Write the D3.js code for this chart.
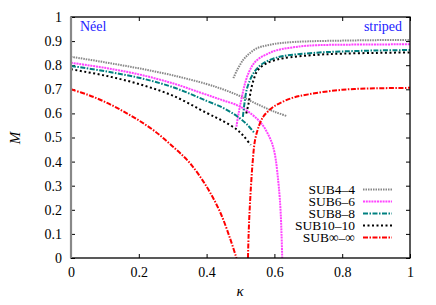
<!DOCTYPE html>
<html><head><meta charset="utf-8">
<script src="https://cdn.jsdelivr.net/npm/d3@7"></script>
<style>body{margin:0;background:#fff}</style>
</head><body>
<svg id="c" width="436" height="305"></svg>
<script>
const xTicks=[0,0.2,0.4,0.6,0.8,1];
const yTicks=[0,0.1,0.2,0.3,0.4,0.5,0.6,0.7,0.8,0.9,1];
const seriesNames=["SUB4\u20134","SUB6\u20136","SUB8\u20138","SUB10\u201310","SUB\u221e\u2013\u221e"];
// Néel branches and striped branches, [kappa, M]
const sub4Neel=[[0,0.835],[0.1,0.812],[0.2,0.787],[0.3,0.758],[0.4,0.722],[0.45,0.699],[0.5,0.671],[0.55,0.638],[0.6,0.607],[0.637,0.589]];
const sub4Str=[[0.479,0.746],[0.49,0.78],[0.508,0.822],[0.525,0.847],[0.548,0.870],[0.58,0.883],[0.626,0.893],[0.7,0.899],[0.8,0.902],[0.9,0.904],[1,0.905]];
const sub6Neel=[[0,0.81],[0.1,0.789],[0.2,0.762],[0.3,0.725],[0.38,0.687],[0.44,0.658],[0.5,0.627],[0.557,0.566],[0.587,0.497],[0.6,0.44],[0.612,0.31],[0.618,0.2],[0.621,0.1],[0.623,0]];
const sub6Str=[[0.488,0.545],[0.495,0.605],[0.503,0.66],[0.512,0.718],[0.523,0.765],[0.537,0.803],[0.553,0.826],[0.58,0.847],[0.607,0.862],[0.676,0.878],[0.725,0.883],[0.8,0.885],[0.9,0.886],[1,0.887]];
const sub8Neel=[[0,0.797],[0.1,0.775],[0.2,0.748],[0.3,0.709],[0.4,0.652],[0.45,0.622],[0.49,0.588],[0.52,0.553],[0.542,0.517]];
const sub8Str=[[0.507,0.586],[0.512,0.645],[0.518,0.697],[0.527,0.735],[0.538,0.766],[0.55,0.788],[0.567,0.808],[0.595,0.826],[0.626,0.838],[0.725,0.852],[0.8,0.857],[0.9,0.861],[1,0.863]];
const sub10Neel=[[0,0.783],[0.1,0.757],[0.2,0.722],[0.3,0.674],[0.4,0.602],[0.45,0.567],[0.49,0.532],[0.51,0.505],[0.53,0.469]];
const sub10Str=[[0.517,0.60],[0.523,0.635],[0.528,0.675],[0.533,0.711],[0.54,0.745],[0.548,0.773],[0.56,0.792],[0.577,0.808],[0.6,0.82],[0.626,0.829],[0.725,0.843],[0.8,0.848],[0.9,0.851],[1,0.853]];
const subInfNeel=[[0,0.70],[0.05,0.677],[0.1,0.648],[0.15,0.612],[0.2,0.571],[0.25,0.523],[0.3,0.463],[0.35,0.395],[0.4,0.296],[0.44,0.19],[0.47,0.078],[0.488,0]];
const subInfStr=[[0.522,0],[0.524,0.1],[0.527,0.2],[0.531,0.3],[0.536,0.4],[0.543,0.49],[0.555,0.55],[0.567,0.586],[0.58,0.607],[0.6,0.63],[0.65,0.663],[0.7,0.679],[0.8,0.698],[0.9,0.704],[1,0.706]];

const styles=[
 {color:"#888888",dash:"1.5,1"},
 {color:"#ff44ff",dash:"2,0.8"},
 {color:"#008080",dash:"5,1.5,1.5,1.5"},
 {color:"#000000",dash:"2,2.5"},
 {color:"#ff0000",dash:"5,1.5,1.5,1.5"}
];
const branches=[[sub4Neel,sub4Str],[sub6Neel,sub6Str],[sub8Neel,sub8Str],[sub10Neel,sub10Str],[subInfNeel,subInfStr]];
const SERIF="'Liberation Serif','DejaVu Serif',serif";

const svg=d3.select("#c");
const L=71,R=410,T=17,B=258;
const x=d3.scaleLinear().domain([0,1]).range([L,R]);
const y=d3.scaleLinear().domain([0,1]).range([B,T]);

const ax=(gen,tr)=>svg.append("g").attr("transform",tr).call(gen);
const fmt=d=>String(+d.toFixed(1));
ax(d3.axisBottom(x).tickValues(xTicks).tickSizeInner(-4).tickSizeOuter(0).tickPadding(9).tickFormat(fmt),`translate(0,${B})`);
ax(d3.axisTop(x).tickValues(xTicks).tickSizeInner(-4).tickSizeOuter(0).tickFormat(""),`translate(0,${T})`);
ax(d3.axisLeft(y).tickValues(yTicks).tickSizeInner(-4).tickSizeOuter(0).tickPadding(9).tickFormat(fmt),`translate(${L},0)`);
ax(d3.axisRight(y).tickValues(yTicks).tickSizeInner(-4).tickSizeOuter(0).tickFormat(""),`translate(${R},0)`);
svg.selectAll(".domain").remove();
svg.selectAll(".tick line").attr("stroke","#000");
svg.selectAll(".tick text").attr("fill","#000").style("font-family",SERIF).style("font-size","14px");

const lineX=d3.line().x(d=>x(d[0])).y(d=>y(d[1])).curve(d3.curveCatmullRom.alpha(0.5));
svg.append("clipPath").attr("id","pc").append("rect").attr("x",L).attr("y",T).attr("width",R-L).attr("height",B-T);
const curves=svg.append("g").attr("clip-path","url(#pc)");
branches.forEach((br,i)=>{
  br.forEach(pts=>{
    curves.append("path").attr("d",lineX(pts)).attr("fill","none")
      .attr("stroke",styles[i].color).attr("stroke-width",2).attr("stroke-dasharray",styles[i].dash);
  });
});

svg.append("rect").attr("x",L).attr("y",T).attr("width",R-L).attr("height",B-T).attr("fill","none").attr("stroke","#000").attr("stroke-width",1.3);
svg.append("line").attr("x1",L).attr("x2",L).attr("y1",T).attr("y2",B).attr("stroke","#888").attr("stroke-width",2.2);

seriesNames.forEach((n,i)=>{
  const yy=189.5+i*12;
  svg.append("text").attr("x",355).attr("y",yy+4.5).attr("text-anchor","end")
    .style("font-family",SERIF).style("font-size","13.5px").text(n);
  svg.append("line").attr("x1",363).attr("x2",392).attr("y1",yy).attr("y2",yy)
    .attr("stroke",styles[i].color).attr("stroke-width",2).attr("stroke-dasharray",styles[i].dash);
});

svg.append("text").attr("x",80).attr("y",31).attr("fill","#2222ff").style("font-family",SERIF).style("font-size","14px").text("Néel");
svg.append("text").attr("x",402).attr("y",31).attr("fill","#2222ff").style("font-family",SERIF).style("font-size","14px").attr("text-anchor","end").text("striped");
svg.append("text").attr("x",240).attr("y",296).style("font-family",SERIF).style("font-size","15px").attr("font-style","italic").attr("text-anchor","middle").text("κ");
svg.append("text").attr("transform","translate(20,138) rotate(-90)").style("font-family",SERIF).style("font-size","15px").attr("font-style","italic").attr("text-anchor","middle").text("M");
</script>
</body></html>
